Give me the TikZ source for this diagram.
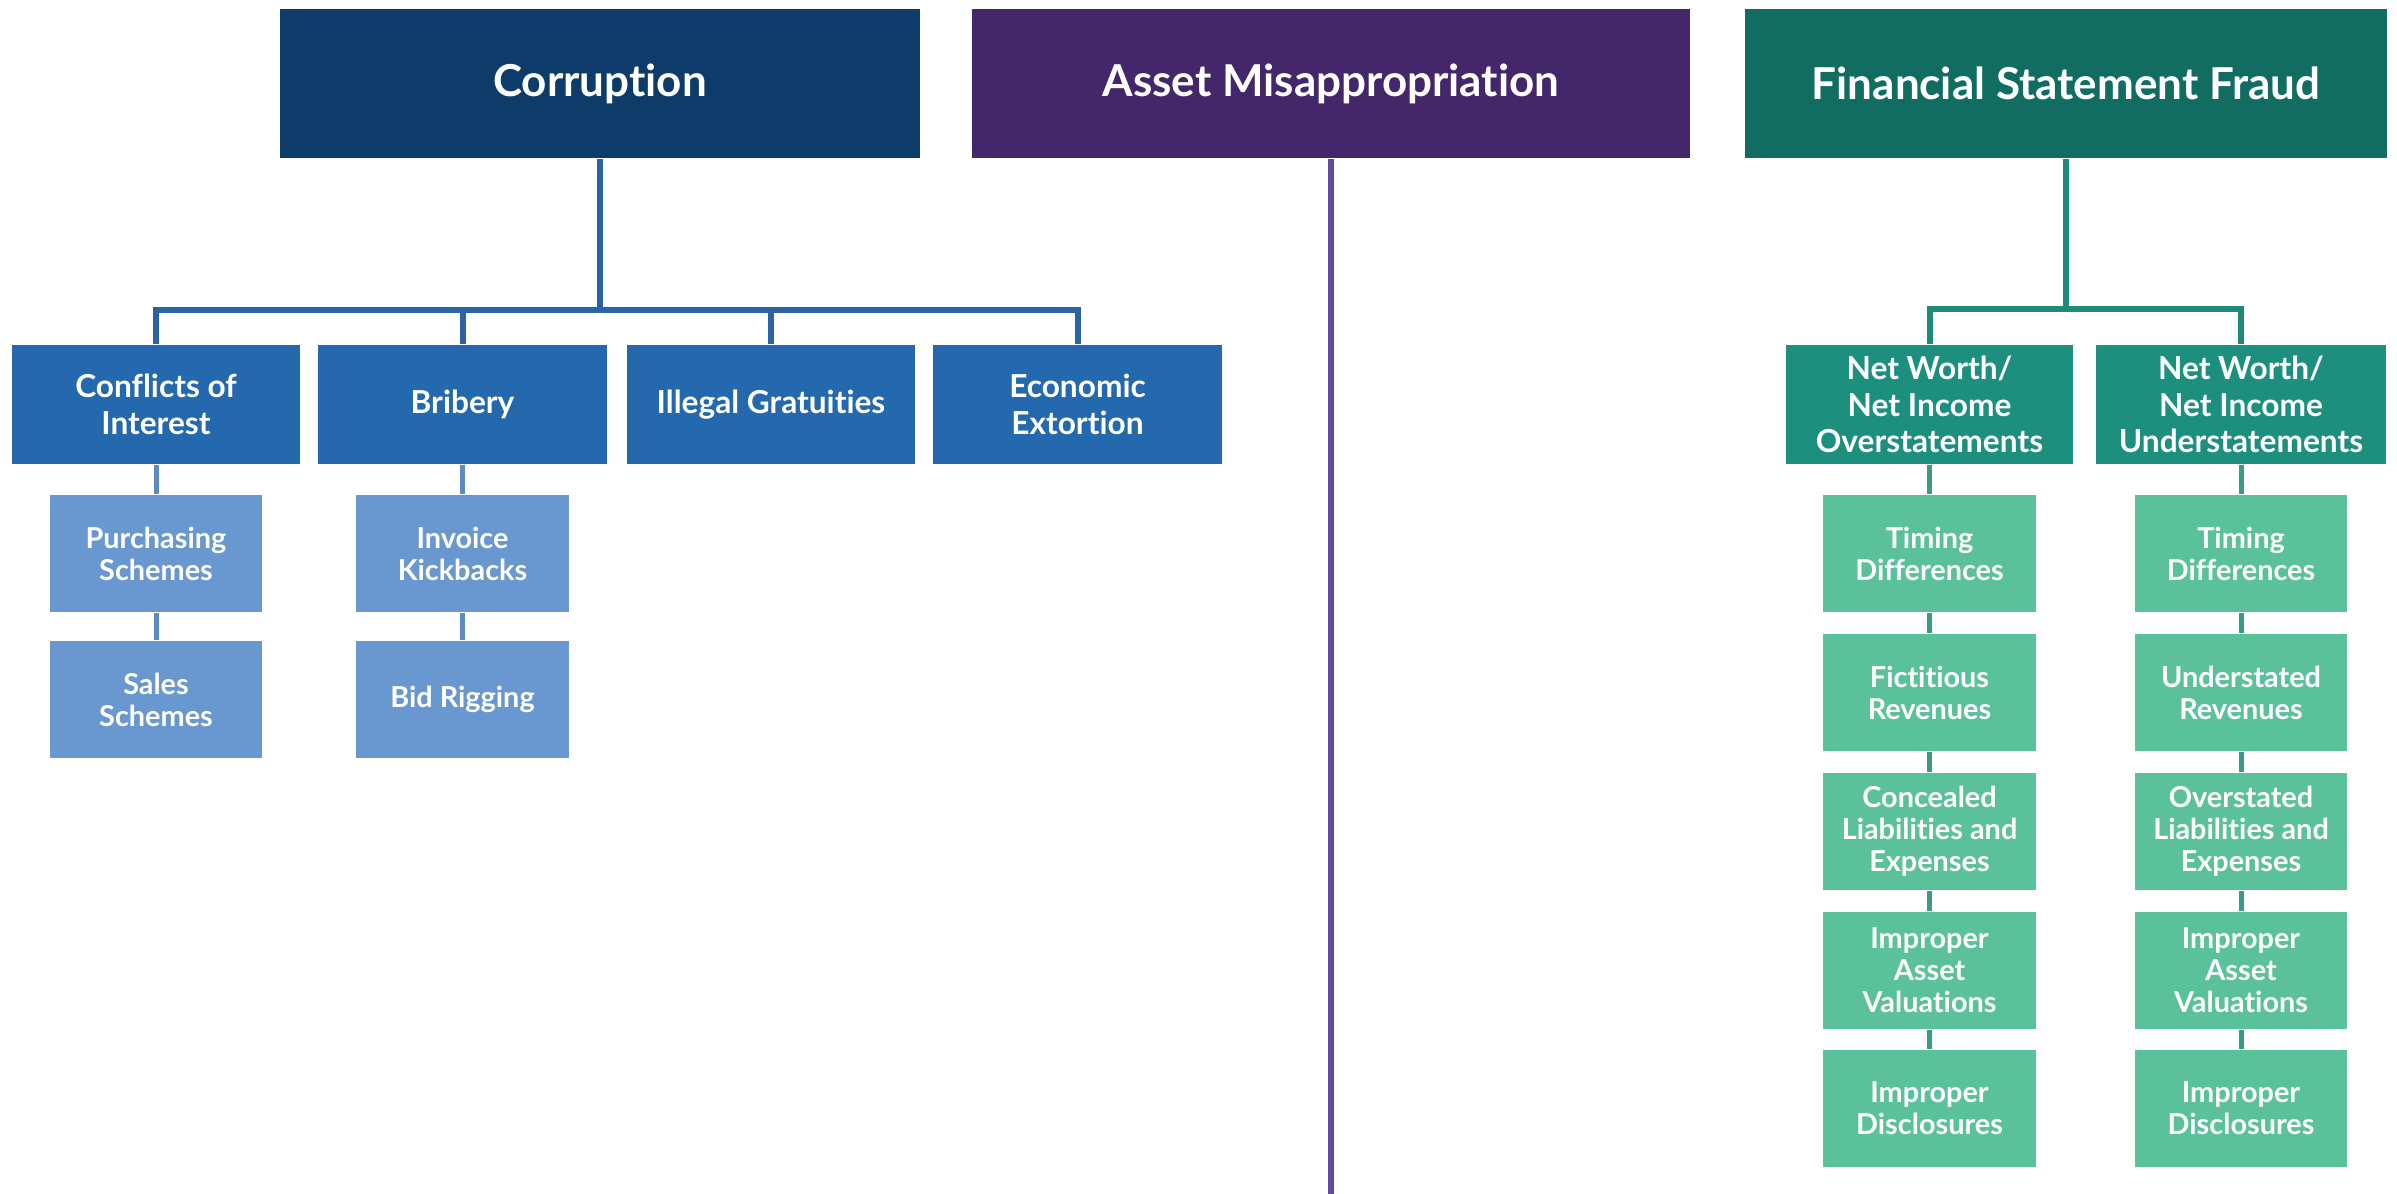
\documentclass[tikz,border=0pt]{standalone}
\usepackage{fontspec}
\setmainfont{Lato}[Ligatures={NoCommon}]
\definecolor{corTop}{HTML}{0D3C6A}
\definecolor{assetTop}{HTML}{44266A}
\definecolor{fsfTop}{HTML}{116D61}
\definecolor{corMid}{HTML}{2468AD}
\definecolor{corLow}{HTML}{6898CF}
\definecolor{fsfMid}{HTML}{1D8F7F}
\definecolor{fsfLow}{HTML}{5BC19B}
\definecolor{corLine}{HTML}{2B64A6}
\definecolor{corLowLine}{HTML}{5C8AC4}
\definecolor{fsfLine}{HTML}{1E8A78}
\definecolor{fsfLowLine}{HTML}{3A9C86}
\definecolor{assetLine}{HTML}{5F4C9F}
\begin{document}
\begin{tikzpicture}[x=0.01cm,y=-0.01cm,
  box/.style={rectangle, inner sep=0pt, text=white, align=center},
  topbox/.style={box, minimum height=1.49cm, font=\bfseries\fontsize{12.5}{15}\selectfont},
  midbox/.style={box, minimum height=1.19cm, font=\bfseries\fontsize{9}{10.4}\selectfont},
  lowbox/.style={box, minimum width=2.12cm, minimum height=1.17cm, font=\bfseries\fontsize{8.2}{9.1}\selectfont},
  conn/.style={line width=0.06cm},
  lowconn/.style={line width=0.05cm}
]
\useasboundingbox (0,0) rectangle (2397,1194);

% top level
\node[topbox, fill=corTop, minimum width=6.40cm] (cor) at (600,83.5) {Corruption};
\node[topbox, fill=assetTop, minimum width=7.18cm] (asset) at (1331,83.5) {Asset Misappropriation};
\node[topbox, fill=fsfTop, minimum width=6.42cm] (fsf) at (2066,83.5) {Financial Statement Fraud};

% corruption level 2
\coordinate (cbar) at (600,310);
\node[midbox, fill=corMid, minimum width=2.88cm] (coi) at (156,404.5) {Conflicts of\\Interest};
\node[midbox, fill=corMid, minimum width=2.88cm] (bri) at (462.5,404.5) {Bribery};
\node[midbox, fill=corMid, minimum width=2.88cm] (ill) at (771,404.5) {Illegal Gratuities};
\node[midbox, fill=corMid, minimum width=2.88cm] (eco) at (1077.5,404.5) {Economic\\Extortion};

\foreach \c in {coi,bri,ill,eco}{
  \draw[conn, corLine] (cor.south) |- (\c.north |- cbar) -- (\c.north);
}

% corruption level 3
\node[lowbox, fill=corLow] (pur) at (156,553.5) {Purchasing\\Schemes};
\node[lowbox, fill=corLow] (sal) at (156,699.5) {Sales\\Schemes};
\node[lowbox, fill=corLow] (inv) at (462.5,553.5) {Invoice\\Kickbacks};
\node[lowbox, fill=corLow] (bid) at (462.5,699.5) {Bid Rigging};
\draw[lowconn, corLowLine] (coi.south) -- (pur.north);
\draw[lowconn, corLowLine] (pur.south) -- (sal.north);
\draw[lowconn, corLowLine] (bri.south) -- (inv.north);
\draw[lowconn, corLowLine] (inv.south) -- (bid.north);

% asset misappropriation line
\coordinate (aend) at (1331,1194);
\draw[conn, assetLine] (asset.south) -- (aend);

% financial statement fraud
\coordinate (fbar) at (2066,309);
\node[midbox, fill=fsfMid, minimum width=2.87cm] (ov) at (1929.5,404.5) {Net Worth/\\Net Income\\Overstatements};
\node[midbox, fill=fsfMid, minimum width=2.90cm] (un) at (2241,404.5) {Net Worth/\\Net Income\\Understatements};
\foreach \c in {ov,un}{
  \draw[conn, fsfLine] (fsf.south) |- (\c.north |- fbar) -- (\c.north);
}

\node[lowbox, fill=fsfLow] (o1) at (1929.5,553.5) {Timing\\Differences};
\node[lowbox, fill=fsfLow] (o2) at (1929.5,692.5) {Fictitious\\Revenues};
\node[lowbox, fill=fsfLow] (o3) at (1929.5,831.5) {Concealed\\Liabilities and\\Expenses};
\node[lowbox, fill=fsfLow] (o4) at (1929.5,970.5) {Improper\\Asset\\Valuations};
\node[lowbox, fill=fsfLow] (o5) at (1929.5,1108.5) {Improper\\Disclosures};

\node[lowbox, fill=fsfLow] (u1) at (2241,553.5) {Timing\\Differences};
\node[lowbox, fill=fsfLow] (u2) at (2241,692.5) {Understated\\Revenues};
\node[lowbox, fill=fsfLow] (u3) at (2241,831.5) {Overstated\\Liabilities and\\Expenses};
\node[lowbox, fill=fsfLow] (u4) at (2241,970.5) {Improper\\Asset\\Valuations};
\node[lowbox, fill=fsfLow] (u5) at (2241,1108.5) {Improper\\Disclosures};

\draw[lowconn, fsfLowLine] (ov.south) -- (o1.north);
\draw[lowconn, fsfLowLine] (o1.south) -- (o2.north);
\draw[lowconn, fsfLowLine] (o2.south) -- (o3.north);
\draw[lowconn, fsfLowLine] (o3.south) -- (o4.north);
\draw[lowconn, fsfLowLine] (o4.south) -- (o5.north);
\draw[lowconn, fsfLowLine] (un.south) -- (u1.north);
\draw[lowconn, fsfLowLine] (u1.south) -- (u2.north);
\draw[lowconn, fsfLowLine] (u2.south) -- (u3.north);
\draw[lowconn, fsfLowLine] (u3.south) -- (u4.north);
\draw[lowconn, fsfLowLine] (u4.south) -- (u5.north);
\end{tikzpicture}
\end{document}
